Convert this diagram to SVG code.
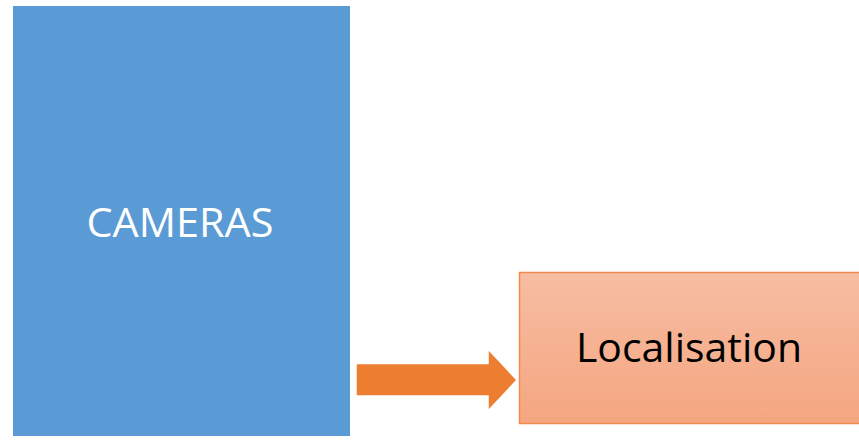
<svg xmlns="http://www.w3.org/2000/svg" width="859" height="441" viewBox="0 0 859 441">
  <defs>
    <linearGradient id="locFill" x1="0" y1="0" x2="0" y2="1">
      <stop offset="0" stop-color="#F7BDA3"/>
      <stop offset="1" stop-color="#F4A680"/>
    </linearGradient>
    <style>
      .label { font-family: "Open Sans", "Liberation Sans", Arial, sans-serif; font-size: 40px; text-anchor: middle; }
    </style>
  </defs>
  <rect width="859" height="441" fill="#FFFFFF"/>

  <g id="cameras">
    <rect x="13" y="6" width="337" height="430" fill="#5B9BD5"/>
    <text class="label" x="180" y="237" fill="#FFFFFF" textLength="187" lengthAdjust="spacingAndGlyphs">CAMERAS</text>
  </g>

  <g id="localisation">
    <rect x="519.5" y="272.5" width="345" height="151" fill="url(#locFill)" stroke="#EE8A4E" stroke-width="1.5"/>
    <text class="label" x="689" y="362" fill="#000000" textLength="226" lengthAdjust="spacingAndGlyphs">Localisation</text>
  </g>

  <g id="connectors">
    <polygon points="356,363.5 488,363.5 488,349 517,380 488,411 488,396 356,396" fill="#ED7D31" stroke="#FFFFFF" stroke-width="1.5" stroke-linejoin="miter"/>
  </g>
</svg>
